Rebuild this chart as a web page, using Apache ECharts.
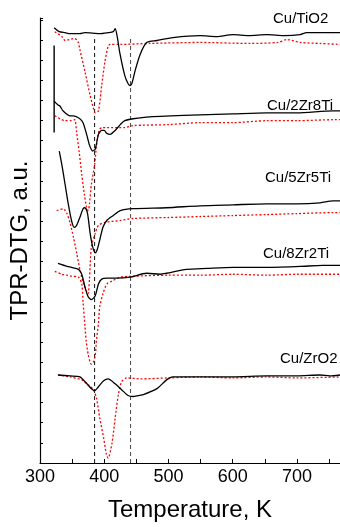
<!DOCTYPE html>
<html>
<head>
<meta charset="utf-8">
<script src="https://cdn.jsdelivr.net/npm/echarts@6/dist/echarts.min.js"></script>
<style>
  html, body { margin: 0; padding: 0; background: #fff; }
  #main { width: 340px; height: 527px; }
</style>
</head>
<body>
<div id="main"></div>
<script>
var myChart = echarts.init(document.getElementById("main"));

// temperature (K), signal (a.u., curves stacked with offsets)
var tio2Black = [[322,445],[330,441],[339,440],[347,439],[362,439],[370,440],[393,439],[406,440],[414,441],[417,444],[421,433],[424,420],[432,396],[437,388],[440,386],[443,388],[448,401],[456,418],[466,430],[482,432],[507,435],[549,437],[575,436],[600,438],[625,437],[653,438],[680,437],[705,438],[715,440],[736,440],[767,440]];
var tio2Red = [[323,441],[334,436],[339,432],[354,434],[359,431],[362,423],[370,400],[378,376],[383,363],[386,358],[391,360],[396,386],[401,410],[406,426],[409,428],[425,428],[471,429],[549,430],[627,429],[670,430],[684,433],[705,430],[736,429],[767,428]];

var zr2Black = [[322,370],[328,366],[331,365],[336,360],[347,355],[352,355],[362,352],[367,348],[373,335],[377,325],[382,319],[386,321],[391,336],[396,340],[400,340],[404,337],[409,336],[417,340],[425,346],[432,350],[445,352],[471,354],[549,356],[600,357],[653,358],[700,358],[756,360],[767,360]];
var zr2Red = [[323,355],[339,350],[349,350],[354,351],[357,338],[361,318],[365,295],[369,275],[372,263],[375,258],[377,265],[380,285],[385,305],[388,325],[392,340],[396,343],[404,343],[432,343],[445,345],[500,346],[549,348],[600,348],[653,350],[700,350],[756,351],[767,351]];

var zr5Black = [[330,319],[334,305],[339,285],[344,265],[349,248],[353,241],[357,243],[362,251],[367,260],[370,261],[374,255],[378,235],[382,221],[386,215],[389,218],[393,228],[398,241],[404,248],[414,253],[425,258],[445,260],[497,261],[549,263],[600,264],[653,265],[700,265],[736,266],[756,268],[767,268]];
var zr5Red = [[326,258],[336,260],[342,255],[347,245],[352,231],[357,215],[362,198],[367,185],[373,175],[375,173],[377,188],[380,221],[386,235],[391,243],[401,246],[425,248],[445,250],[500,251],[549,252],[600,253],[653,254],[700,255],[756,256],[767,256]];

var zr8Black = [[328,204],[342,201],[349,200],[360,198],[365,193],[370,180],[375,170],[380,167],[386,171],[391,183],[396,188],[404,189],[419,189],[440,190],[466,194],[487,193],[497,194],[528,198],[560,199],[601,200],[650,200],[705,201],[740,202],[767,202]];
var zr8Red = [[323,196],[334,193],[342,192],[349,191],[360,190],[365,183],[367,165],[370,140],[372,124],[375,111],[378,103],[380,101],[383,103],[386,110],[388,126],[391,143],[393,160],[398,173],[404,183],[412,186],[425,190],[445,191],[500,192],[549,192],[600,193],[653,192],[700,193],[767,193]];

var zro2Black = [[328,90],[347,89],[362,88],[373,81],[380,76],[385,74],[391,78],[399,84],[406,86],[417,81],[427,75],[437,69],[445,68],[453,69],[461,70],[482,76],[497,85],[507,88],[549,88],[600,88],[653,89],[700,89],[736,90],[751,89],[767,90]];
var zro2Red = [[328,90],[347,88],[365,85],[375,80],[383,75],[388,66],[393,46],[399,26],[403,10],[406,5],[412,20],[417,46],[422,70],[427,83],[435,87],[456,86],[500,87],[549,88],[600,87],[653,88],[700,87],[767,88]];

var sampleNames = ["Cu/TiO2", "Cu/2Zr8Ti", "Cu/5Zr5Ti", "Cu/8Zr2Ti", "Cu/ZrO2"];
var guideTemps = [385, 441];
var guideTop = 434;
var scaleBar = [[322, 427], [322, 338]];

var blackSets = [tio2Black, zr2Black, zr5Black, zr8Black, zro2Black];
var redSets = [tio2Red, zr2Red, zr5Red, zr8Red, zro2Red];
var labelPos = [[273, 19], [267, 106], [265, 178], [263, 254], [280, 359]];

var series = [];
blackSets.forEach(function (d, i) {
  series.push({
    name: sampleNames[i], type: "line", data: d, showSymbol: false, smooth: 0.25,
    lineStyle: { color: "#000", width: 1.3 }, z: 3
  });
});
redSets.forEach(function (d, i) {
  series.push({
    name: sampleNames[i] + " red", type: "line", data: d, showSymbol: false, smooth: 0.25,
    lineStyle: { color: "#ff0000", width: 1.3, type: [2, 2] }, z: 2
  });
});
guideTemps.forEach(function (t, i) {
  series.push({
    type: "line", data: [[t, 0], [t, guideTop]], showSymbol: false,
    lineStyle: { color: i === 0 ? "#111" : "#444", width: 1, type: [4, 3] }, z: 1
  });
});
series.push({
  type: "line", data: scaleBar, showSymbol: false,
  lineStyle: { color: "#000", width: 1.4 }, z: 4
});

var option = {
  animation: false,
  grid: { left: 40, right: 0, top: 18, bottom: 54 },
  xAxis: {
    type: "value", min: 300, max: 767, interval: 50,
    name: "Temperature, K", nameLocation: "middle", nameGap: 35,
    nameTextStyle: { fontSize: 24, color: "#000", fontFamily: "Liberation Sans" },
    axisLine: { lineStyle: { color: "#000", width: 1.2 } },
    axisTick: { inside: true, length: 4, lineStyle: { color: "#000" } },
    axisLabel: {
      margin: 5, fontSize: 18, color: "#000", fontFamily: "Liberation Sans",
      showMaxLabel: false,
      formatter: function (v) { return v % 100 === 0 ? String(v) : ""; }
    },
    splitLine: { show: false }
  },
  yAxis: {
    type: "value", min: 0, max: 455, interval: 20.6,
    name: "TPR-DTG, a.u.", nameLocation: "middle", nameGap: 8, nameRotate: 90,
    nameTextStyle: { fontSize: 24, color: "#000", fontFamily: "Liberation Sans" },
    axisLine: { show: true, lineStyle: { color: "#000", width: 1.2 } },
    axisTick: { show: true, inside: true, length: 3, lineStyle: { color: "#000" } },
    axisLabel: { show: false },
    splitLine: { show: false }
  },
  graphic: sampleNames.map(function (n, i) {
    return {
      type: "text", left: labelPos[i][0], top: labelPos[i][1] - 8,
      style: { text: n, fontSize: 15, fill: "#000", fontFamily: "Liberation Sans" }
    };
  }),
  series: series
};

myChart.setOption(option);
</script>
</body>
</html>
